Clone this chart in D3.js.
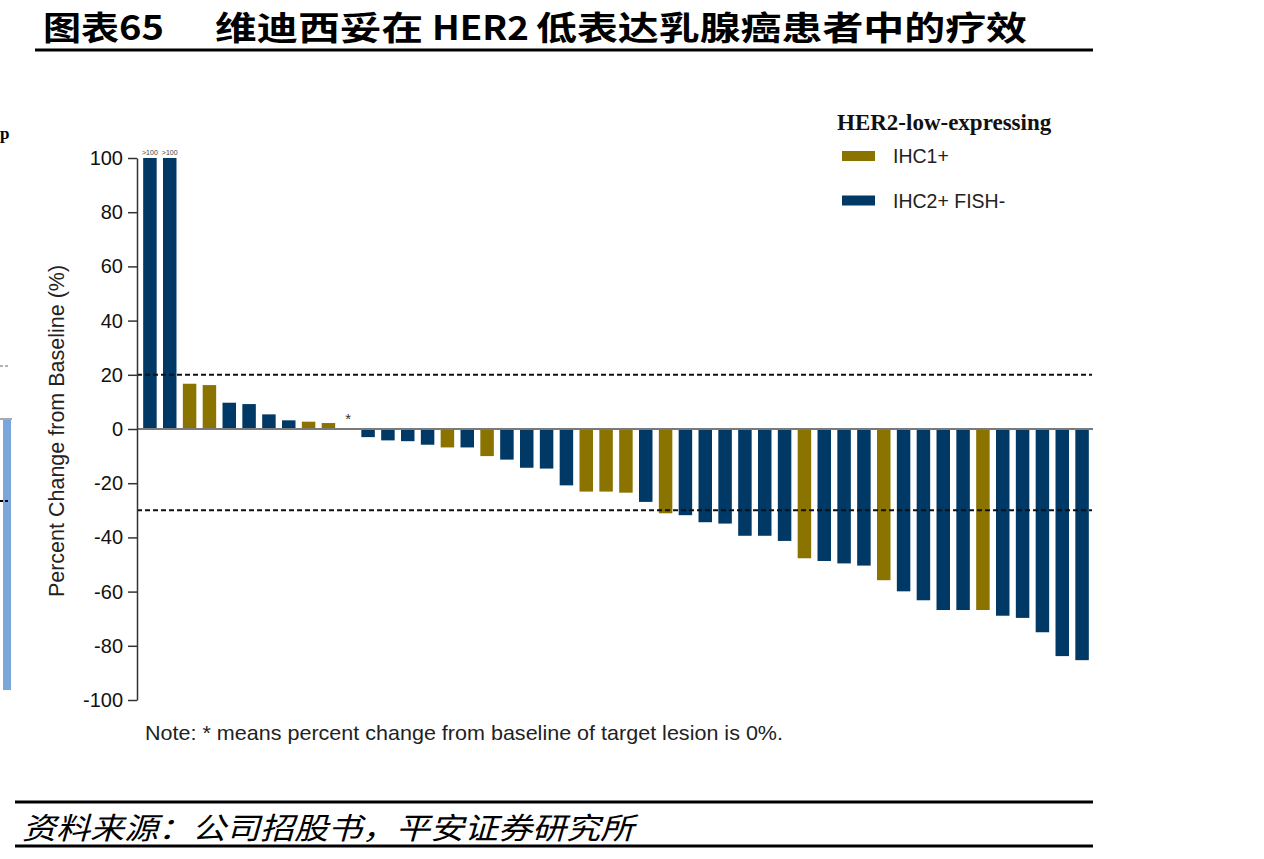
<!DOCTYPE html>
<html>
<head>
<meta charset="utf-8">
<script src="https://cdn.jsdelivr.net/npm/d3@7"></script>
<style>
  body { margin: 0; background: #fff; }
  svg text { font-family: "Liberation Sans", Arial, sans-serif; }
</style>
</head>
<body>
<div id="chart"></div>
<script>
// waterfall values, best change from baseline (%), one per patient
const values = [100, 100, 16.7, 16.2, 9.7, 9.2, 5.4, 3.2, 2.7, 2.2, 0,
  -3.0, -4.2, -4.5, -5.8, -6.8, -6.8, -10.0, -11.3, -14.3, -14.6, -20.8,
  -23.1, -23.1, -23.5, -26.9, -31.1, -31.8, -34.4, -34.9, -39.4, -39.4, -41.3,
  -47.7, -48.7, -49.6, -50.4, -55.8, -59.9, -63.2, -66.8, -66.8, -66.8,
  -68.9, -69.7, -75.0, -83.8, -85.3];
const groups = ["B", "B", "G", "G", "B", "B", "B", "B", "G", "G", "B",
  "B", "B", "B", "B", "G", "B", "G", "B", "B", "B", "B",
  "G", "G", "G", "B", "G", "B", "B", "B", "B", "B", "B",
  "G", "B", "B", "B", "G", "B", "B", "B", "B", "G",
  "B", "B", "B", "B", "B"];
const overflowLabels = [">100", ">100"];
const zeroMarks = [10];   // "*" = 0% change
const refLines = [20, -30];
const yTicks = [100, 80, 60, 40, 20, 0, -20, -40, -60, -80, -100];
const legendNames = ["IHC1+", "IHC2+ FISH-"];
const colors = { G: "#8b7300", B: "#003965" };

const width = 1264, height = 859;
const svg = d3.select("#chart").append("svg")
    .attr("width", width)
    .attr("height", height);

// title, set in pieces so the gaps match
const titleParts = [
  { t: "图表65", x: 43, w: 121 },
  { t: "维迪西妥在", x: 215, w: 208 },
  { t: "HER2", x: 432, w: 97 },
  { t: "低表达乳腺癌患者中的疗效", x: 536, w: 491 }
];
svg.append("g")
    .selectAll("text")
    .data(titleParts)
    .join("text")
    .attr("x", d => d.x).attr("y", 40)
    .attr("textLength", d => d.w).attr("lengthAdjust", "spacingAndGlyphs")
    .style("font-family", "'Noto Sans CJK SC', sans-serif")
    .style("font-weight", "bold").style("font-size", "33px")
    .text(d => d.t);
svg.append("line").attr("x1", 35).attr("x2", 1093).attr("y1", 50).attr("y2", 50)
    .attr("stroke", "#000").attr("stroke-width", 3);

// leftover piece of the neighbouring figure
const left = svg.append("g");
left.append("text").attr("x", 0).attr("y", 139)
    .style("font-family", "'Liberation Serif', serif").style("font-weight", "bold")
    .style("font-size", "17px").text("p");
left.append("line").attr("x1", 0).attr("x2", 10).attr("y1", 366).attr("y2", 366)
    .attr("stroke", "#666").attr("stroke-dasharray", "3,2");
left.append("line").attr("x1", 0).attr("x2", 12).attr("y1", 419).attr("y2", 419)
    .attr("stroke", "#555");
left.append("rect").attr("x", 3).attr("y", 420).attr("width", 8).attr("height", 270)
    .attr("fill", "#7aa6dc");
left.append("line").attr("x1", 0).attr("x2", 10).attr("y1", 501).attr("y2", 501)
    .attr("stroke", "#000").attr("stroke-width", 2).attr("stroke-dasharray", "3,2");

// scales
const x = d3.scaleBand()
    .domain(d3.range(values.length))
    .range([140, 1092])
    .paddingInner(0.32)
    .paddingOuter(0.16);
const y = d3.scaleLinear().domain([-100, 100]).range([700, 158]);

// bars
svg.append("g")
    .selectAll("rect")
    .data(values.map((v, i) => ({ v, i, g: groups[i] })).filter(d => d.v !== 0))
    .join("rect")
    .attr("x", d => x(d.i))
    .attr("width", x.bandwidth())
    .attr("y", d => y(Math.max(0, d.v)))
    .attr("height", d => Math.abs(y(d.v) - y(0)))
    .attr("fill", d => colors[d.g]);

// >100 labels
svg.append("g")
    .selectAll("text")
    .data(overflowLabels)
    .join("text")
    .attr("x", (d, i) => x(i) + x.bandwidth() / 2)
    .attr("y", y(100) - 3)
    .attr("text-anchor", "middle")
    .style("font-size", "7px").style("fill", "#444")
    .text(d => d);

// asterisk
svg.append("g")
    .selectAll("text")
    .data(zeroMarks)
    .join("text")
    .attr("x", d => x(d) + x.bandwidth() / 2)
    .attr("y", y(0) - 5)
    .attr("text-anchor", "middle")
    .style("font-size", "15px").style("fill", "#333")
    .text("*");

// zero line
svg.append("line")
    .attr("x1", 137).attr("x2", 1093)
    .attr("y1", y(0)).attr("y2", y(0))
    .attr("stroke", "#7a7a7a").attr("stroke-width", 2);

// dashed reference lines
svg.append("g")
    .selectAll("line")
    .data(refLines)
    .join("line")
    .attr("x1", 137).attr("x2", 1092)
    .attr("y1", d => y(d)).attr("y2", d => y(d))
    .attr("stroke", "#111").attr("stroke-width", 2)
    .attr("stroke-dasharray", "5,3");

// y axis
const yAxis = svg.append("g")
    .attr("transform", "translate(137,0)")
    .call(d3.axisLeft(y).tickValues(yTicks).tickFormat(d => String(d))
        .tickSize(9).tickPadding(5).tickSizeOuter(0));
yAxis.select(".domain").attr("stroke", "#333").attr("stroke-width", 1.5);
yAxis.selectAll(".tick line").attr("stroke", "#333").attr("stroke-width", 1.5);
yAxis.selectAll(".tick text")
    .style("font-size", "20px").style("font-family", "'Liberation Sans', Arial, sans-serif")
    .attr("fill", "#111");

svg.append("text")
    .attr("transform", "translate(64,431) rotate(-90)")
    .attr("text-anchor", "middle")
    .style("font-size", "21.5px").style("fill", "#222")
    .text("Percent Change from Baseline (%)");

// legend
const legend = svg.append("g").attr("transform", "translate(837,0)");
legend.append("text").attr("x", 0).attr("y", 130)
    .style("font-family", "'Liberation Serif', 'Times New Roman', serif")
    .style("font-weight", "bold").style("font-size", "23px").style("fill", "#111")
    .text("HER2-low-expressing");
const items = legend.selectAll("g.item")
    .data(legendNames)
    .join("g")
    .attr("class", "item")
    .attr("transform", (d, i) => `translate(0,${156 + i * 44.5})`);
items.append("rect").attr("x", 5).attr("y", -5).attr("width", 33).attr("height", 10)
    .attr("fill", (d, i) => i === 0 ? colors.G : colors.B);
items.append("text").attr("x", 56).attr("y", 7)
    .style("font-size", "19.5px").style("fill", "#222")
    .text(d => d);

// note
svg.append("text")
    .attr("x", 145).attr("y", 740)
    .attr("textLength", 638).attr("lengthAdjust", "spacingAndGlyphs")
    .style("font-size", "21px").style("fill", "#222")
    .text("Note: * means percent change from baseline of target lesion is 0%.");

// source
svg.append("line").attr("x1", 15).attr("x2", 1093).attr("y1", 802).attr("y2", 802)
    .attr("stroke", "#000").attr("stroke-width", 3);
svg.append("text")
    .attr("x", 22).attr("y", 839)
    .attr("textLength", 612).attr("lengthAdjust", "spacingAndGlyphs")
    .style("font-family", "'Noto Sans CJK SC', sans-serif")
    .style("font-style", "italic").style("font-size", "30px")
    .text("资料来源：公司招股书，平安证券研究所");
svg.append("line").attr("x1", 15).attr("x2", 1093).attr("y1", 846).attr("y2", 846)
    .attr("stroke", "#000").attr("stroke-width", 3);
</script>
</body>
</html>
